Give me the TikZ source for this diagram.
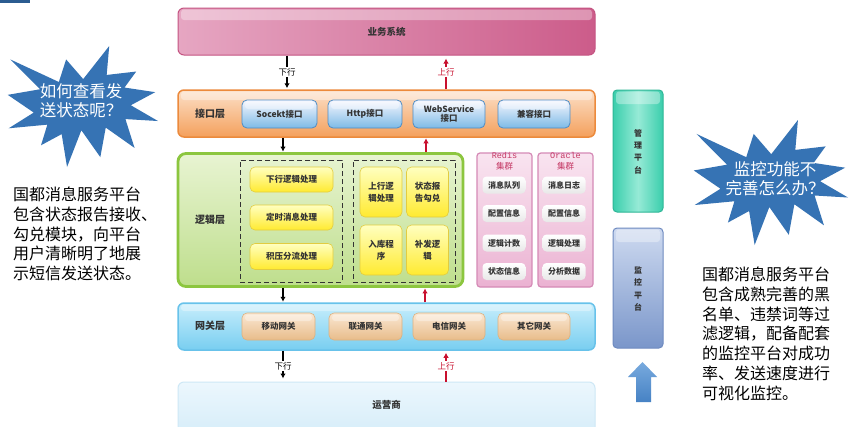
\documentclass[tikz,border=0pt]{standalone}
\usepackage{fontspec}
\setmainfont{Noto Sans CJK SC}
\newfontfamily\monof{Liberation Mono}
\usetikzlibrary{arrows.meta,calc}
\definecolor{starblue}{HTML}{3673B4}
\definecolor{upred}{HTML}{C8102E}
\definecolor{txt}{HTML}{333333}
\definecolor{ifb}{HTML}{7DBAE6}\definecolor{ifd}{HTML}{4E8CC4}
\definecolor{yb}{HTML}{FFEA30}\definecolor{yd}{HTML}{E2CC40}
\definecolor{dbd}{HTML}{D58AB6}\definecolor{dbt}{HTML}{F9E4F0}\definecolor{dbb}{HTML}{EBB2D2}
\definecolor{gwt}{HTML}{FAE8D4}\definecolor{gwb}{HTML}{E8BC8A}\definecolor{gwd}{HTML}{DDB07E}
\newcommand\burstpath{(109.01,59.05) -- (84.58,23.99) -- (74.17,64.25) -- (4.76,23.99) -- (47.32,77.22) -- (1.06,87.18) -- (38.28,118.80) -- (2.43,146.89) -- (57.72,140.41) -- (48.68,177.19) -- (78.19,157.30) -- (85.90,216) -- (106.37,150.38) -- (133.49,198.40) -- (141.25,145.61) -- (182.48,181.95) -- (169.38,130.44) -- (216,133.93) -- (177.10,105.79) -- (211.98,82.42) -- (168.06,74.17) -- (184.82,45.60) -- (142.57,51.66) -- (146.23,0) -- cycle}
\begin{document}
\begin{tikzpicture}[x=1pt,y=-1pt,
  gloss/.style={path picture={\fill[white,opacity=0.35,rounded corners=3pt]
      ([xshift=3pt,yshift=-1.5pt]path picture bounding box.north west) rectangle
      ([xshift=-3pt,yshift=-#1]path picture bounding box.north east);}},
  bar/.style={rounded corners=6pt, minimum width=417pt, inner sep=0pt, line width=1pt,
      text=txt, font=\bfseries\fontsize{9.5}{11}\selectfont},
  lyr/.style={text=txt, font=\bfseries\fontsize{10}{12}\selectfont, inner sep=0pt},
  ifbox/.style={rounded corners=5pt, minimum height=28pt, inner sep=0pt, top color=blue!3!white,
      bottom color=ifb, draw=ifd, line width=0.8pt, align=center, text=txt,
      font=\bfseries\fontsize{8.5}{9.5}\selectfont, gloss=9pt},
  ybox/.style={rounded corners=5pt, inner sep=0pt, top color=yellow!25!white, bottom color=yb,
      draw=yd, line width=0.6pt, align=center, text=txt,
      font=\bfseries\fontsize{8.5}{12}\selectfont},
  dbox/.style={draw=black!80, dash pattern=on 5pt off 3pt, line width=0.9pt, inner sep=0pt},
  dbpanel/.style={rounded corners=3pt, draw=dbd, line width=1.2pt, top color=dbt, bottom color=dbb,
      inner sep=0pt, minimum width=55pt, minimum height=134pt},
  dbitem/.style={rounded corners=4pt, top color=white, bottom color=black!9, draw=none,
      minimum width=43pt, minimum height=17pt, inner sep=0pt, text=txt,
      font=\bfseries\fontsize{8}{9}\selectfont},
  gwbox/.style={rounded corners=5pt, minimum height=27pt, inner sep=0pt, top color=gwt,
      bottom color=gwb, draw=gwd, line width=0.6pt, text=txt,
      font=\bfseries\fontsize{8.5}{9.5}\selectfont, gloss=8pt},
  darr/.style={line width=1.6pt, -{Latex[length=5pt,width=5.5pt]}, black},
  uarr/.style={line width=1.6pt, -{Latex[length=5pt,width=5.5pt]}, upred},
  lbl/.style={fill=white, inner sep=1pt, font=\fontsize{8.5}{9}\selectfont},
  side/.style={anchor=north west, align=left, inner sep=0pt, text=black,
      font=\fontsize{16}{19.7}\selectfont},
  startxt/.style={align=center, inner sep=0pt, text=white, font=\fontsize{16.5}{19}\selectfont},
  vtxt/.style={align=center, inner sep=0pt, text=txt, font=\bfseries\fontsize{8}{12.3}\selectfont}
]
\useasboundingbox (0,0) rectangle (860,426);
\fill[white] (0,0) rectangle (860,426);
\fill[starblue!80!black] (0,0) rectangle (30,2.5);

% ---------- layers ----------
\node[bar, minimum height=47pt, left color={rgb,255:red,230;green,166;blue,194}, right color={rgb,255:red,204;green,92;blue,138},
      draw={rgb,255:red,196;green,84;blue,130}, gloss=12pt] (yw) at (386.5,31.5) {业务系统};

\node[bar, minimum height=47pt, top color={rgb,255:red,252;green,224;blue,200},
      bottom color={rgb,255:red,244;green,160;blue,92}, draw={rgb,255:red,236;green,138;blue,60},
      line width=1.5pt, gloss=10pt] (jk) at (386.5,113.5) {};
\node[lyr] (jkl) at (210,114) {接口层};
\node[ifbox, minimum width=75pt] (if1) at (279.5,114) {Socekt接口};
\node[ifbox, minimum width=74pt] (if2) at (365,114) {Http接口};
\node[ifbox, minimum width=72pt] (if3) at (449,114) {WebService\\接口};
\node[ifbox, minimum width=72pt] (if4) at (534,114) {兼容接口};

\node[rounded corners=8pt, minimum width=285pt, minimum height=133pt, inner sep=0pt,
      top color={rgb,255:red,232;green,244;blue,210}, bottom color={rgb,255:red,190;green,222;blue,140},
      draw={rgb,255:red,140;green,198;blue,63}, line width=2.8pt] (lj) at (320.5,220) {};
\node[lyr] (ljl) at (210,220) {逻辑层};
\node[dbox, minimum width=102pt, minimum height=122pt] (dl) at (291,221) {};
\node[dbox, minimum width=102pt, minimum height=122pt] (dr) at (404,221) {};
\node[ybox, minimum width=83pt, minimum height=25pt] (y1) at (291.5,179.5) {下行逻辑处理};
\node[ybox, minimum width=83pt, minimum height=25pt] (y2) at (291.5,217.5) {定时消息处理};
\node[ybox, minimum width=83pt, minimum height=26pt] (y3) at (291.5,256.5) {积压分流处理};
\node[ybox, minimum width=42pt, minimum height=50pt] (y4) at (381,192) {上行逻\\辑处理};
\node[ybox, minimum width=42pt, minimum height=50pt] (y5) at (427.5,192) {状态报\\告勾兑};
\node[ybox, minimum width=42pt, minimum height=50pt] (y6) at (381,250) {入库程\\序};
\node[ybox, minimum width=42pt, minimum height=50pt] (y7) at (427.5,250) {补发逻\\辑};

\node[dbpanel] (rd) at (504.5,220) {};
\node[dbpanel] (or) at (565.5,220) {};
\node[align=center, inner sep=0pt, text={rgb,255:red,196;green,56;blue,100},
      font=\fontsize{8.5}{11}\selectfont] (rdt) at (504.5,161) {{\monof Redis}\\集群};
\node[align=center, inner sep=0pt, text={rgb,255:red,196;green,56;blue,100},
      font=\fontsize{8.5}{11}\selectfont] (ort) at (565.5,161) {{\monof Oracle}\\集群};
\node[dbitem] (r1) at (504,185) {消息队列};
\node[dbitem] (r2) at (504,213.5) {配置信息};
\node[dbitem] (r3) at (504,243) {逻辑计数};
\node[dbitem] (r4) at (504,271.5) {状态信息};
\node[dbitem] (o1) at (564,185) {消息日志};
\node[dbitem] (o2) at (564,213.5) {配置信息};
\node[dbitem] (o3) at (564,243) {逻辑处理};
\node[dbitem] (o4) at (564,271.5) {分析数据};

\node[bar, minimum height=47pt, top color={rgb,255:red,200;green,238;blue,252},
      bottom color={rgb,255:red,120;green,206;blue,240}, draw={rgb,255:red,104;green,194;blue,234},
      line width=1.5pt, gloss=8pt] (wg) at (386.5,326.5) {};
\node[lyr] (wgl) at (210,326) {网关层};
\node[gwbox, minimum width=73pt] (g1) at (278.5,326.5) {移动网关};
\node[gwbox, minimum width=73pt] (g2) at (365.5,326.5) {联通网关};
\node[gwbox, minimum width=72pt] (g3) at (449,326.5) {电信网关};
\node[gwbox, minimum width=72pt] (g4) at (534,326.5) {其它网关};

\node[bar, minimum height=52pt, top color={rgb,255:red,236;green,247;blue,253},
      bottom color={rgb,255:red,214;green,237;blue,249}, draw={rgb,255:red,206;green,232;blue,246},
      font=\bfseries\fontsize{9.5}{11}\selectfont] (yy) at (386.5,408) {};
\node[text=txt, font=\bfseries\fontsize{9.5}{11}\selectfont, inner sep=0pt] (yyl) at (386.5,405) {运营商};

% ---------- platforms ----------
\node[rounded corners=4pt, minimum width=50pt, minimum height=122pt, inner sep=0pt,
      left color={rgb,255:red,58;green,206;blue,172}, right color={rgb,255:red,58;green,206;blue,172},
      middle color={rgb,255:red,150;green,234;blue,214}, draw={rgb,255:red,46;green,182;blue,150},
      line width=1pt, gloss=14pt] (gl) at (638,151) {};
\node[vtxt] (glt) at (638,151.5) {管\\理\\平\\台};
\node[rounded corners=4pt, minimum width=50pt, minimum height=120pt, inner sep=0pt,
      top color={rgb,255:red,206;green,218;blue,240}, bottom color={rgb,255:red,122;green,150;blue,202},
      draw={rgb,255:red,110;green,138;blue,192}, line width=1pt, gloss=14pt] (jkp) at (638,288) {};
\node[vtxt] (jkt) at (638,289) {监\\控\\平\\台};

\shade[top color={rgb,255:red,120;green,170;blue,222}, bottom color={rgb,255:red,70;green,130;blue,196}]
  (642.5,362) -- (657,377) -- (651,377) -- (651,402) -- (636,402) -- (636,377) -- (628,377) -- cycle;

% ---------- arrows ----------
\draw[darr, shorten >=1pt] (yw.south -| 287,0) -- node[lbl] (a1) {下行} (jk.north -| 287,0);
\draw[uarr, shorten >=3pt] (jk.north -| 446,0) -- node[lbl, text=upred] (a2) {上行} (yw.south -| 446,0);
\draw[darr, shorten >=0.5pt] (jk.south -| 283,0) -- (lj.north -| 283,0);
\draw[uarr, shorten >=0.5pt] (lj.north -| 426,0) -- (jk.south -| 426,0);
\draw[darr, shorten >=0.5pt] (lj.south -| 283,0) -- (wg.north -| 283,0);
\draw[uarr, shorten >=0.5pt] (wg.north -| 425,0) -- (lj.south -| 425,0);
\draw[darr, shorten >=3pt] (wg.south -| 283,0) -- node[lbl] (a3) {下行} (yy.north -| 283,0);
\draw[uarr, shorten >=2pt] (yy.north -| 446,0) -- node[lbl, text=upred] (a4) {上行} (wg.south -| 446,0);

% ---------- stars (explosion shape) ----------
\begin{scope}[shift={(7,46)}, x=151/216*1pt, y=-121/216*1pt]
  \fill[starblue] \burstpath;
\end{scope}
\node[startxt] (s1) at (81,101) {如何查看发\\送状态呢？};
\begin{scope}[shift={(693,120)}, x=155/216*1pt, y=-125/216*1pt]
  \fill[starblue] \burstpath;
\end{scope}
\node[startxt] (s2) at (775,179) {监控功能不\\完善怎么办？};

% ---------- side texts ----------
\node[side] (tl) at (13,187) {国都消息服务平台\\包含状态报告接收、\\勾兑模块，向平台\\用户清晰明了地展\\示短信发送状态。};
\node[side] (tr) at (702,267) {国都消息服务平台\\包含成熟完善的黑\\名单、违禁词等过\\滤逻辑，配备配套\\的监控平台对成功\\率、发送速度进行\\可视化监控。};
\end{tikzpicture}
\end{document}
